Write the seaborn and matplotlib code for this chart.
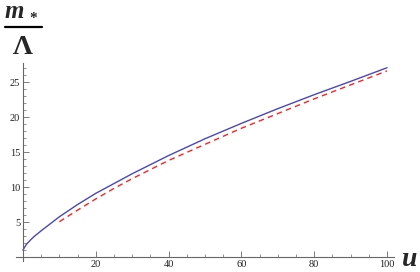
import matplotlib
matplotlib.use('Agg')
import matplotlib.pyplot as plt
import seaborn as sns
import pandas as pd
from matplotlib.lines import Line2D
from matplotlib.ticker import MultipleLocator, FixedLocator

# ── data ─────────────────────────────────────────────────────────────
u_full = [0, 0.5, 1, 2, 3, 5, 7.5, 10, 15, 20, 25, 30, 40, 50, 60, 70, 80, 90, 100]
m_full = [1.0, 1.45, 1.85, 2.4, 2.9, 3.75, 4.75, 5.75, 7.5, 9.1, 10.5, 11.9, 14.5,
          16.9, 19.1, 21.2, 23.2, 25.1, 27.05]

u_asym = [10, 15, 20, 25, 30, 40, 50, 60, 70, 80, 90, 100]
m_asym = [5.05, 6.7, 8.3, 9.8, 11.2, 13.8, 16.1, 18.4, 20.5, 22.6, 24.6, 26.6]

x_major = [20, 40, 60, 80, 100]
y_major = [5, 10, 15, 20, 25]

df_full = pd.DataFrame({'u': u_full, 'm': m_full})
df_asym = pd.DataFrame({'u': u_asym, 'm': m_asym})

sns.set_style('white')
plt.rcParams['font.family'] = ['Liberation Serif', 'DejaVu Serif']

fig = plt.figure(figsize=(4.2, 2.72), dpi=100)
ax = fig.add_axes([0.0374, 0.0397, 0.8997, 0.728])

sns.lineplot(data=df_full, x='u', y='m', ax=ax, color='#4848b4', lw=1.0)
sns.lineplot(data=df_asym, x='u', y='m', ax=ax, color='#ff2020', lw=1.0,
             dashes=False, linestyle=(0, (4, 3)))

ax.set_xlim(-2, 101.8)
ax.set_ylim(-0.6, 27.7)
ax.set_xlabel('')
ax.set_ylabel('')

for s in ['top', 'right']:
    ax.spines[s].set_visible(False)
for s in ['left', 'bottom']:
    ax.spines[s].set_position(('data', 0))
    ax.spines[s].set_color('#666666')
    ax.spines[s].set_linewidth(0.8)

ax.xaxis.set_major_locator(FixedLocator(x_major))
ax.xaxis.set_minor_locator(MultipleLocator(5))
ax.yaxis.set_major_locator(FixedLocator(y_major))
ax.yaxis.set_minor_locator(MultipleLocator(1))
ax.tick_params(which='major', direction='in', length=4, width=0.6,
               color='#666666', labelsize=7.5, labelcolor='#222222', pad=2)
ax.tick_params(which='minor', direction='in', length=2.2, width=0.5,
               color='#666666')
ax.tick_params(axis='x', which='both', bottom=True, top=False)
ax.tick_params(axis='y', which='both', left=True, right=False)

# axis labels: m_* / Lambda on top left, u at right end
fig.text(5 / 420, 1 - 18 / 272, 'm', fontsize=18, fontweight='bold',
         fontstyle='italic', ha='left', va='baseline')
fig.text(29 / 420, 1 - 22 / 272, '*', fontsize=11, fontweight='bold',
         ha='left', va='baseline')
fig.add_artist(Line2D([5 / 420, 42 / 420], [1 - 27 / 272, 1 - 27 / 272],
                      transform=fig.transFigure, color='black', lw=1.6))
fig.text(23 / 420, 1 - 47 / 272, 'Λ', fontsize=20, fontweight='bold',
         ha='center', va='center')
fig.text(402 / 420, 1 - 260 / 272, 'u', fontsize=20, fontweight='bold',
         fontstyle='italic', ha='left', va='center')

fig.savefig('out.png', dpi=100)
